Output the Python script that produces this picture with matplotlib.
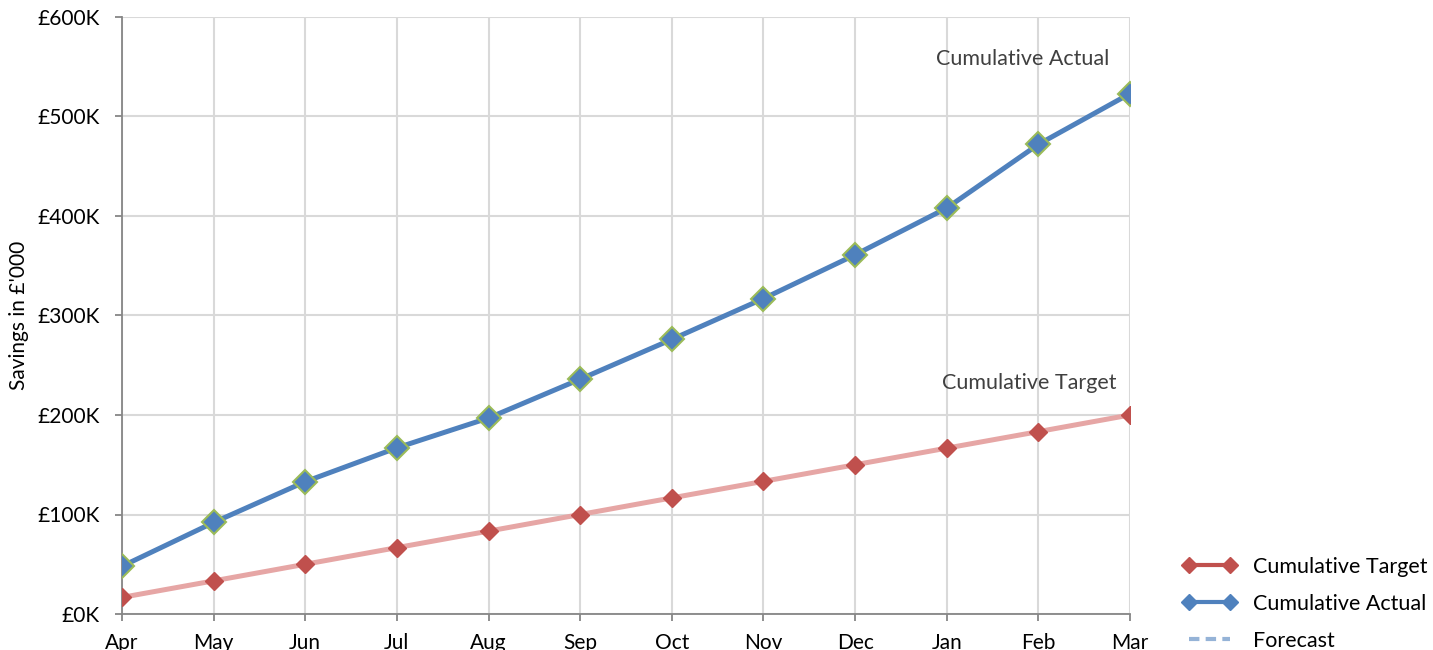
import matplotlib
matplotlib.use("Agg")
import matplotlib.pyplot as plt
from matplotlib.lines import Line2D
from matplotlib.ticker import FuncFormatter

plt.rcParams['font.family'] = ['Lato', 'DejaVu Sans']

months = ['Apr', 'May', 'Jun', 'Jul', 'Aug', 'Sep', 'Oct', 'Nov', 'Dec', 'Jan', 'Feb', 'Mar']
cumulative_target = [16.7, 33.3, 50.0, 66.7, 83.3, 100.0, 116.7, 133.3, 150.0, 166.7, 183.3, 200.0]
cumulative_actual = [48, 92, 133, 167, 197, 236, 276, 317, 361, 408, 472, 523]
y_ticks = [0, 100, 200, 300, 400, 500, 600]

fig = plt.figure(figsize=(14.33, 6.5), dpi=100)
ax = fig.add_axes([122/1433, 36/650, 1008/1433, 597/650])

x = list(range(len(months)))
ax.plot(x, cumulative_target, color='#e6a6a5', lw=3.6, marker='D', ms=9.5,
        mfc='#c0504d', mec='#c0504d', solid_capstyle='butt', zorder=3)
ax.plot(x, cumulative_actual, color='#4f81bd', lw=3.6, marker='D', ms=12,
        mfc='#4f81bd', mec='#9bbb59', mew=1.5, zorder=4)

ax.set_xlim(0, len(months) - 1)
ax.set_ylim(0, 600)
ax.set_xticks(x)
ax.set_xticklabels(months)
ax.set_yticks(y_ticks)
ax.yaxis.set_major_formatter(FuncFormatter(lambda v, p: f'£{int(v)}K'))

ax.grid(True, color='#d9d9d9', lw=1.5)
ax.set_axisbelow(True)
for s in ['top', 'right']:
    ax.spines[s].set_visible(False)
for s in ['left', 'bottom']:
    ax.spines[s].set_color('#868686')
    ax.spines[s].set_linewidth(1.3)
ax.tick_params(axis='both', colors='#868686', length=5, width=1.3, labelcolor='black', labelsize=15)
ax.tick_params(axis='y', pad=11)
ax.tick_params(axis='x', pad=9)

ax.set_ylabel("Savings in £'000", fontsize=15, labelpad=6)

ax.text(9.83, 558, 'Cumulative Actual', ha='center', va='center', fontsize=15.5, color='#404040')
ax.text(9.9, 232, 'Cumulative Target', ha='center', va='center', fontsize=15.5, color='#404040')

handles = [
    Line2D([], [], color='#c0504d', lw=3, marker='D', ms=8, mfc='#c0504d', mec='#c0504d'),
    Line2D([], [], color='#4f81bd', lw=3, marker='D', ms=8, mfc='#4f81bd', mec='#4f81bd'),
    Line2D([], [], color='#95b3d7', lw=3, ls=(0, (2.5, 1.5))),
]
labels = ['Cumulative Target', 'Cumulative Actual', 'Forecast']
fig.legend(handles, labels, loc='upper left', bbox_to_anchor=(1183/1433, 1 - 557/650),
           frameon=False, fontsize=15.5, numpoints=2, handlelength=2.5,
           handletextpad=0.75, labelspacing=0.78, borderaxespad=0, borderpad=0)

fig.savefig('out.png', dpi=100)
